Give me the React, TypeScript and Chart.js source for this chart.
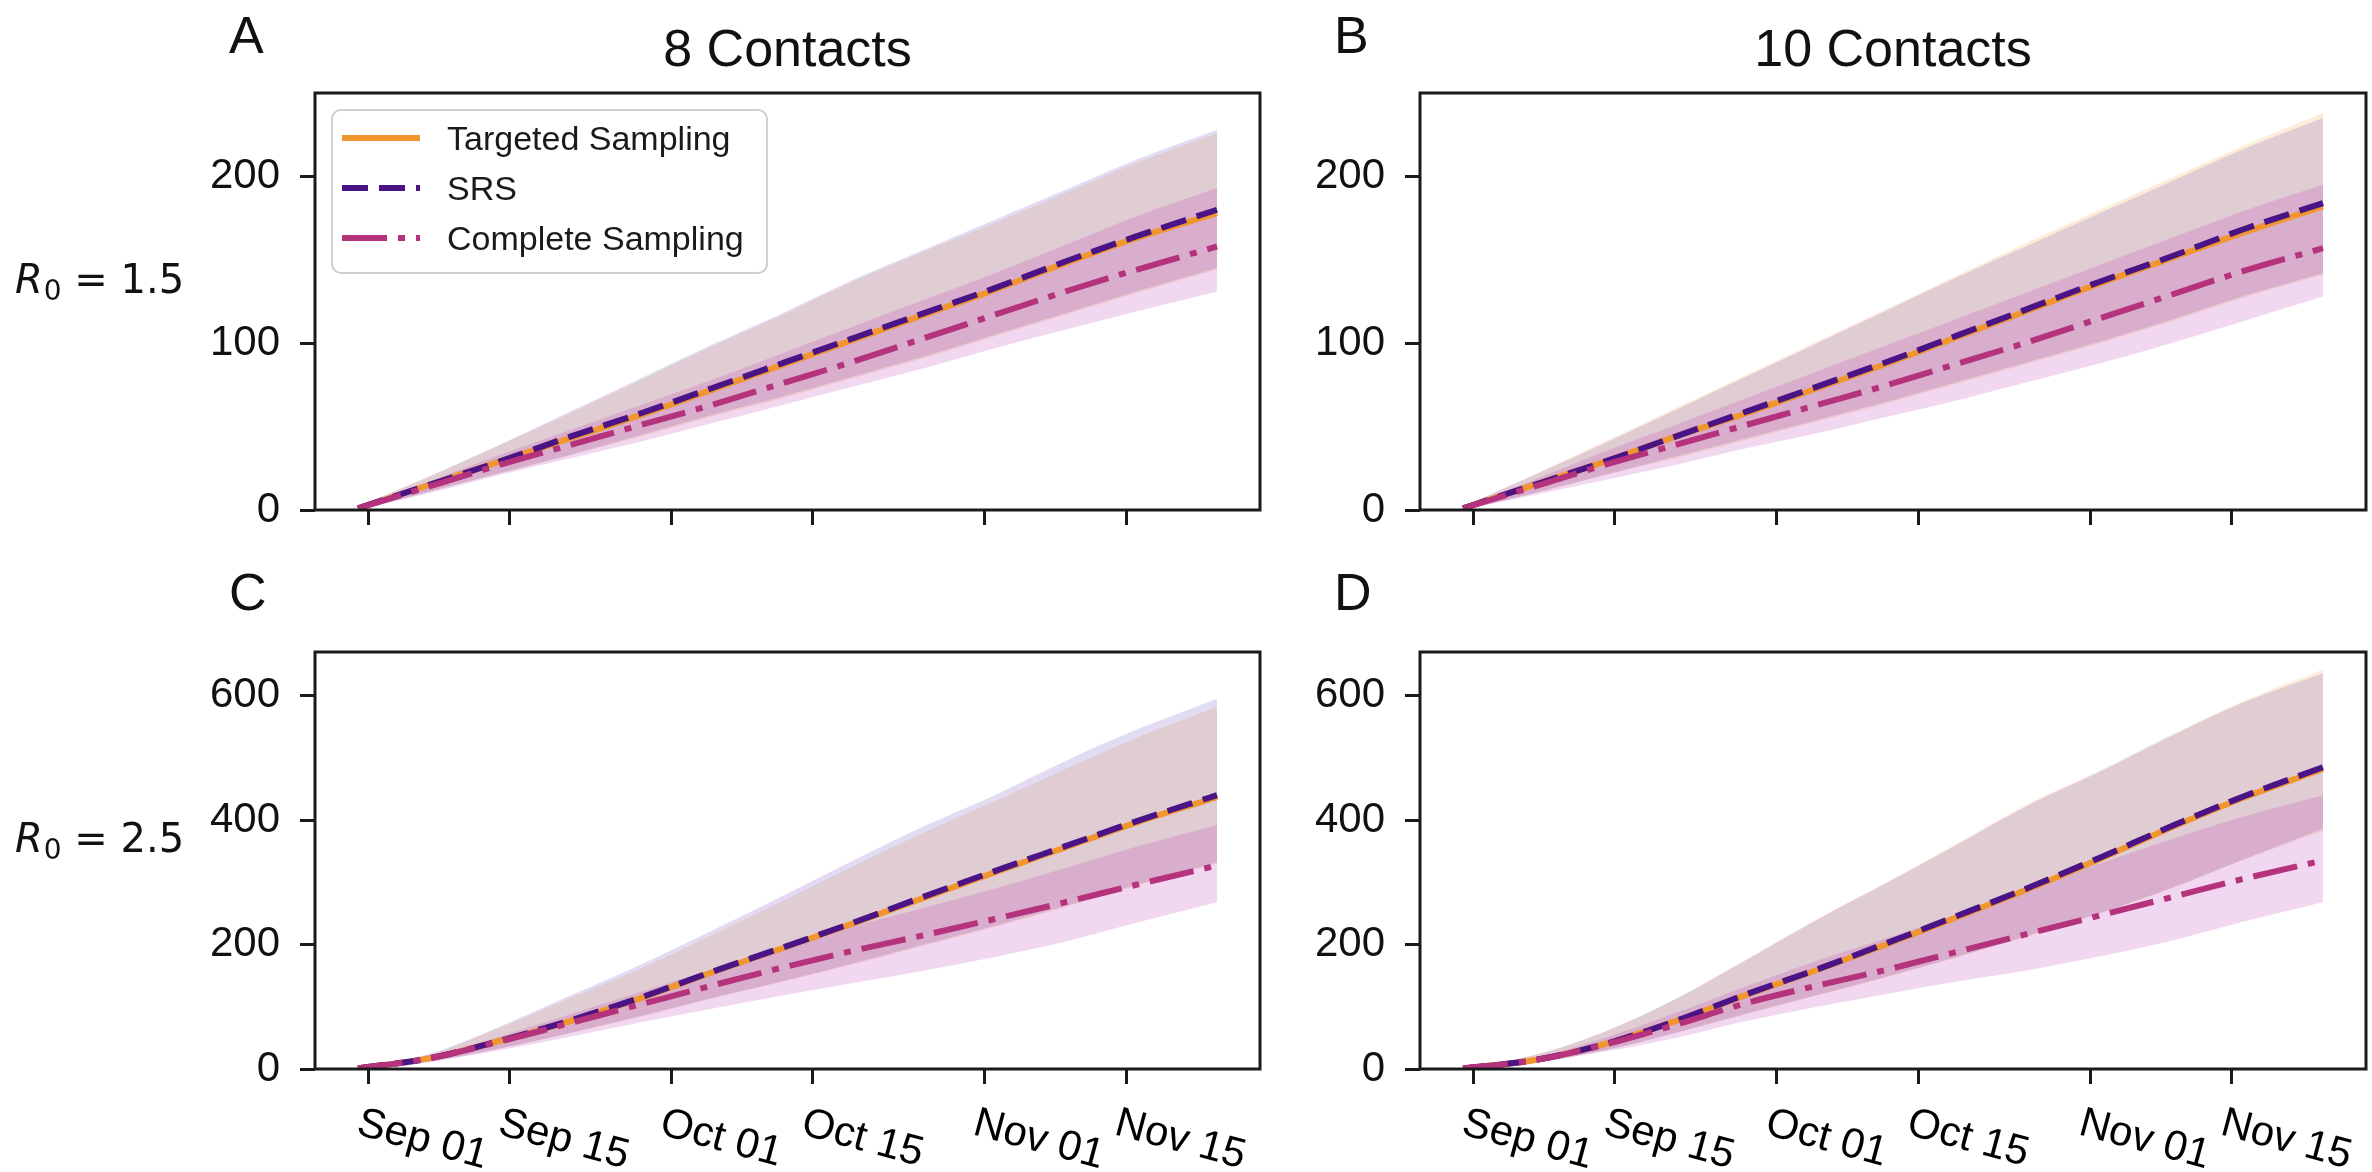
import React, { useEffect, useRef } from 'react';
import { Chart, registerables } from 'chart.js';

Chart.register(...registerables);

// ---------------- data ----------------
// x positions: days relative to Sep 01
const DAYS = [-1, 6, 13, 20, 27, 34, 41, 48, 55, 62, 69, 76, 84];
const X_TICK_DAYS = [0, 14, 30, 44, 61, 75];
const X_TICK_LABELS = ['Sep 01', 'Sep 15', 'Oct 01', 'Oct 15', 'Nov 01', 'Nov 15'];
const Y_TICKS_ROW1 = [0, 100, 200];
const Y_TICKS_ROW2 = [0, 200, 400, 600];
const Y_MAX_ROW1 = 250;
const Y_MAX_ROW2 = 670;
const SERIES_NAMES = ['Targeted Sampling', 'SRS', 'Complete Sampling'];
const COLUMN_TITLES = ['8 Contacts', '10 Contacts'];
const ROW_R0 = ['1.5', '2.5'];
const PANEL_LETTERS = ['A', 'B', 'C', 'D'];

// Panel A: R0 = 1.5, 8 contacts
const A_TS_MEAN = [1, 15, 29, 43, 57, 72, 87, 102, 117, 132, 148, 163, 178];
const A_SRS_MEAN = [1, 15, 29, 44, 58, 73, 88, 103, 118, 133, 149, 164, 180];
const A_CS_MEAN = [1, 14, 27, 39, 51, 63, 76, 89, 103, 117, 131, 144, 158];
const A_TS_LO = [0, 11, 22, 33, 44, 56, 67, 79, 91, 104, 117, 130, 144];
const A_TS_HI = [2, 20, 39, 58, 78, 98, 117, 137, 155, 172, 190, 208, 226];
const A_SRS_LO = [0, 11, 22, 33, 45, 57, 68, 80, 92, 105, 118, 131, 145];
const A_SRS_HI = [2, 20, 39, 59, 79, 99, 118, 138, 156, 174, 192, 210, 228];
const A_CS_LO = [0, 10, 21, 31, 41, 52, 63, 74, 85, 97, 108, 119, 131];
const A_CS_HI = [2, 17, 33, 48, 63, 78, 94, 110, 126, 142, 159, 176, 193];

// Panel B: R0 = 1.5, 10 contacts
const B_TS_MEAN = [1, 15, 29, 44, 58, 73, 88, 104, 120, 136, 151, 166, 182];
const B_SRS_MEAN = [1, 15, 29, 44, 59, 74, 89, 105, 121, 137, 152, 168, 184];
const B_CS_MEAN = [1, 14, 27, 39, 51, 63, 75, 88, 101, 115, 129, 143, 157];
const B_TS_LO = [0, 10, 21, 31, 42, 53, 64, 76, 88, 100, 113, 127, 141];
const B_TS_HI = [2, 21, 41, 61, 81, 101, 121, 141, 161, 180, 199, 218, 238];
const B_SRS_LO = [0, 10, 21, 32, 43, 54, 65, 77, 89, 101, 114, 128, 142];
const B_SRS_HI = [2, 21, 40, 60, 80, 100, 120, 140, 159, 178, 197, 216, 235];
const B_CS_LO = [0, 9, 18, 27, 37, 46, 56, 66, 77, 88, 100, 113, 128];
const B_CS_HI = [2, 18, 35, 51, 67, 83, 99, 115, 131, 147, 163, 179, 195];

// Panel C: R0 = 2.5, 8 contacts
const C_TS_MEAN = [1, 17, 45, 77, 114, 155, 194, 234, 275, 316, 356, 396, 437];
const C_SRS_MEAN = [1, 17, 45, 78, 115, 156, 195, 235, 277, 318, 358, 398, 440];
const C_CS_MEAN = [1, 17, 44, 74, 104, 134, 163, 190, 215, 241, 268, 296, 327];
const C_TS_LO = [0, 12, 33, 58, 84, 113, 140, 168, 198, 228, 260, 294, 330];
const C_TS_HI = [2, 23, 66, 114, 162, 215, 270, 326, 380, 430, 482, 532, 582];
const C_SRS_LO = [0, 12, 33, 58, 85, 114, 141, 170, 200, 230, 262, 296, 332];
const C_SRS_HI = [2, 24, 68, 118, 168, 222, 278, 335, 390, 440, 495, 545, 595];
const C_CS_LO = [0, 11, 30, 52, 75, 97, 118, 138, 158, 180, 205, 235, 268];
const C_CS_HI = [2, 20, 52, 88, 124, 160, 195, 229, 259, 290, 323, 357, 392];

// Panel D: R0 = 2.5, 10 contacts
const D_TS_MEAN = [1, 14, 40, 77, 119, 159, 201, 245, 290, 338, 388, 435, 482];
const D_SRS_MEAN = [1, 14, 40, 77, 120, 160, 203, 247, 292, 340, 390, 437, 485];
const D_CS_MEAN = [1, 14, 39, 71, 106, 134, 160, 189, 218, 247, 276, 305, 335];
const D_TS_LO = [0, 10, 30, 58, 88, 118, 148, 180, 214, 250, 290, 335, 383];
const D_TS_HI = [2, 22, 60, 113, 176, 241, 301, 364, 427, 480, 537, 590, 642];
const D_SRS_LO = [0, 10, 30, 58, 89, 119, 149, 181, 215, 251, 291, 336, 386];
const D_SRS_HI = [2, 22, 60, 112, 175, 240, 300, 362, 425, 478, 535, 588, 636];
const D_CS_LO = [0, 10, 28, 50, 77, 100, 121, 141, 159, 181, 206, 236, 268];
const D_CS_HI = [2, 18, 50, 90, 133, 174, 211, 249, 290, 330, 369, 405, 440];

// ---------------- styles / layout ----------------
const FONT = '"Liberation Sans", Arial, Helvetica, sans-serif';
const LINE_COLORS = ['#f1962f', '#4a1486', '#b5327c'];
const BAND_COLORS = ['rgba(241,150,47,0.18)', 'rgba(72,40,180,0.16)', 'rgba(175,40,170,0.18)'];
const DASHES: number[][] = [[], [26, 11], [45, 11, 7, 11]];
const LINE_WIDTH = 6;
const AXIS_COLOR = '#1a1a1a';

const COLS = [
  { x: 0, w: 1290, plotL: 315, plotR: 1260 },
  { x: 1290, w: 1082, plotL: 1420, plotR: 2366 },
];
const ROWS = [
  { y: 0, h: 560, plotT: 93, plotB: 510, xAxisH: 40, letterBase: 53 },
  { y: 560, h: 612, plotT: 652, plotB: 1069, xAxisH: 103, letterBase: 610 },
];
const Y_AXIS_W = 120;

type PanelCfg = {
  idx: number;
  row: number;
  col: number;
  means: number[][];
  los: number[][];
  his: number[][];
};

const PANELS: PanelCfg[] = [
  { idx: 0, row: 0, col: 0, means: [A_TS_MEAN, A_SRS_MEAN, A_CS_MEAN], los: [A_TS_LO, A_SRS_LO, A_CS_LO], his: [A_TS_HI, A_SRS_HI, A_CS_HI] },
  { idx: 1, row: 0, col: 1, means: [B_TS_MEAN, B_SRS_MEAN, B_CS_MEAN], los: [B_TS_LO, B_SRS_LO, B_CS_LO], his: [B_TS_HI, B_SRS_HI, B_CS_HI] },
  { idx: 2, row: 1, col: 0, means: [C_TS_MEAN, C_SRS_MEAN, C_CS_MEAN], los: [C_TS_LO, C_SRS_LO, C_CS_LO], his: [C_TS_HI, C_SRS_HI, C_CS_HI] },
  { idx: 3, row: 1, col: 1, means: [D_TS_MEAN, D_SRS_MEAN, D_CS_MEAN], los: [D_TS_LO, D_SRS_LO, D_CS_LO], his: [D_TS_HI, D_SRS_HI, D_CS_HI] },
];

const pts = (arr: number[]) => DAYS.map((d, i) => ({ x: d, y: arr[i] }));

function roundRectPath(ctx: CanvasRenderingContext2D, x: number, y: number, w: number, h: number, r: number) {
  ctx.beginPath();
  ctx.moveTo(x + r, y);
  ctx.lineTo(x + w - r, y);
  ctx.arcTo(x + w, y, x + w, y + r, r);
  ctx.lineTo(x + w, y + h - r);
  ctx.arcTo(x + w, y + h, x + w - r, y + h, r);
  ctx.lineTo(x + r, y + h);
  ctx.arcTo(x, y + h, x, y + h - r, r);
  ctx.lineTo(x, y + r);
  ctx.arcTo(x, y, x + r, y, r);
  ctx.closePath();
}

function makeDecor(p: PanelCfg) {
  const row = ROWS[p.row];
  return {
    id: 'decor' + p.idx,
    afterDraw(chart: any) {
      const ctx: CanvasRenderingContext2D = chart.ctx;
      const area = chart.chartArea;
      ctx.save();
      // frame
      ctx.strokeStyle = AXIS_COLOR;
      ctx.lineWidth = 3;
      ctx.setLineDash([]);
      ctx.strokeRect(area.left, area.top, area.right - area.left, area.bottom - area.top);

      ctx.fillStyle = '#111';
      // panel letter
      ctx.font = `52px ${FONT}`;
      ctx.textAlign = 'left';
      ctx.textBaseline = 'alphabetic';
      ctx.fillText(PANEL_LETTERS[p.idx], area.left - 86, row.letterBase - row.y);

      // column title
      if (p.row === 0) {
        ctx.textAlign = 'center';
        ctx.font = `52px ${FONT}`;
        ctx.fillText(COLUMN_TITLES[p.col], (area.left + area.right) / 2, 66);
      }

      // row label R0 = ...
      if (p.col === 0) {
        const base = (area.top + area.bottom) / 2 - 9;
        let x = 15;
        ctx.textAlign = 'left';
        ctx.font = 'italic 40px "DejaVu Sans"';
        ctx.fillText('R', x, base);
        x += ctx.measureText('R').width + 1;
        ctx.font = '28px "DejaVu Sans"';
        ctx.fillText('0', x, base + 7);
        x += ctx.measureText('0').width;
        ctx.font = '40px "DejaVu Sans"';
        ctx.fillText(' = ' + ROW_R0[p.row], x, base);
      }

      // x tick labels (bottom row)
      if (p.row === 1) {
        const xs = chart.scales.x;
        ctx.font = `42px ${FONT}`;
        ctx.textAlign = 'left';
        ctx.textBaseline = 'alphabetic';
        ctx.fillStyle = '#000';
        X_TICK_DAYS.forEach((d, i) => {
          const px = xs.getPixelForValue(d);
          ctx.save();
          ctx.translate(px - 13, area.bottom + 65);
          ctx.rotate((15 * Math.PI) / 180);
          ctx.fillText(X_TICK_LABELS[i], 0, 0);
          ctx.restore();
        });
      }

      // legend (panel A)
      if (p.idx === 0) {
        const lx = area.left + 17;
        const ly = area.top + 17;
        roundRectPath(ctx, lx, ly, 435, 163, 9);
        ctx.fillStyle = 'rgba(255,255,255,0.85)';
        ctx.fill();
        ctx.strokeStyle = '#cfcfcf';
        ctx.lineWidth = 2;
        ctx.stroke();
        SERIES_NAMES.forEach((name, i) => {
          const y = ly + 28 + i * 50;
          ctx.beginPath();
          ctx.setLineDash(DASHES[i]);
          ctx.strokeStyle = LINE_COLORS[i];
          ctx.lineWidth = LINE_WIDTH;
          ctx.lineCap = 'butt';
          ctx.moveTo(lx + 10, y);
          ctx.lineTo(lx + 88, y);
          ctx.stroke();
          ctx.setLineDash([]);
          ctx.fillStyle = '#1a1a1a';
          ctx.font = `34px ${FONT}`;
          ctx.textAlign = 'left';
          ctx.textBaseline = 'alphabetic';
          ctx.fillText(name, lx + 115, y + 12);
        });
      }
      ctx.restore();
    },
  };
}

function PanelChart({ p }: { p: PanelCfg }) {
  const ref = useRef<HTMLCanvasElement>(null);
  const col = COLS[p.col];
  const row = ROWS[p.row];
  useEffect(() => {
    if (!ref.current) return;
    const yTicks = p.row === 0 ? Y_TICKS_ROW1 : Y_TICKS_ROW2;
    const yMax = p.row === 0 ? Y_MAX_ROW1 : Y_MAX_ROW2;
    const datasets: any[] = [];
    // bands: lo at index 2k, hi at 2k+1 (filled to lo)
    for (let k = 0; k < 3; k++) {
      datasets.push({
        label: SERIES_NAMES[k] + ' lower',
        data: pts(p.los[k]),
        borderColor: 'rgba(0,0,0,0)',
        borderWidth: 1,
        pointRadius: 0,
        fill: false,
        cubicInterpolationMode: 'monotone',
        order: 20 - k,
      });
      datasets.push({
        label: SERIES_NAMES[k] + ' upper',
        data: pts(p.his[k]),
        borderColor: 'rgba(0,0,0,0)',
        borderWidth: 1,
        pointRadius: 0,
        backgroundColor: BAND_COLORS[k],
        fill: 2 * k,
        cubicInterpolationMode: 'monotone',
        order: 10 - k,
      });
    }
    for (let k = 0; k < 3; k++) {
      datasets.push({
        label: SERIES_NAMES[k],
        data: pts(p.means[k]),
        borderColor: LINE_COLORS[k],
        borderWidth: LINE_WIDTH,
        borderDash: DASHES[k],
        borderCapStyle: 'butt',
        pointRadius: 0,
        fill: false,
        cubicInterpolationMode: 'monotone',
        order: 3 - k,
      });
    }
    const gridCfg = {
      display: true,
      drawOnChartArea: false,
      drawTicks: true,
      tickLength: 15,
      tickWidth: 3,
      tickColor: AXIS_COLOR,
    };
    const chart = new Chart(ref.current, {
      type: 'line',
      data: { datasets },
      options: {
        responsive: false,
        maintainAspectRatio: false,
        animation: false,
        devicePixelRatio: 1,
        layout: {
          autoPadding: false,
          padding: {
            left: col.plotL - col.x - Y_AXIS_W,
            right: col.x + col.w - col.plotR,
            top: row.plotT - row.y,
            bottom: row.y + row.h - row.plotB - row.xAxisH,
          },
        },
        plugins: {
          legend: { display: false },
          tooltip: { enabled: false },
          title: { display: false },
        },
        scales: {
          x: {
            type: 'linear',
            min: -5.25,
            max: 88.25,
            afterBuildTicks: (s: any) => {
              s.ticks = X_TICK_DAYS.map((v) => ({ value: v }));
            },
            afterFit: (s: any) => {
              s.height = row.xAxisH;
              s.paddingLeft = 0;
              s.paddingRight = 0;
              s.paddingTop = 0;
              s.paddingBottom = 0;
            },
            ticks: { display: false },
            grid: gridCfg,
            border: { display: false },
          },
          y: {
            type: 'linear',
            min: 0,
            max: yMax,
            afterBuildTicks: (s: any) => {
              s.ticks = yTicks.map((v) => ({ value: v }));
            },
            afterFit: (s: any) => {
              s.width = Y_AXIS_W;
              s.paddingTop = 0;
              s.paddingBottom = 0;
              s.paddingLeft = 0;
              s.paddingRight = 0;
            },
            ticks: {
              font: { size: 42, family: FONT },
              color: '#111',
              padding: 20,
            },
            grid: gridCfg,
            border: { display: false },
          },
        },
      } as any,
      plugins: [makeDecor(p)],
    });
    return () => chart.destroy();
  }, []);
  return (
    <canvas
      ref={ref}
      width={col.w}
      height={row.h}
      style={{ position: 'absolute', left: col.x, top: row.y, width: col.w, height: row.h }}
    />
  );
}

export default function App() {
  return (
    <div
      style={{
        position: 'absolute',
        left: 0,
        top: 0,
        width: 2372,
        height: 1172,
        background: '#ffffff',
        overflow: 'hidden',
      }}
    >
      {PANELS.map((p) => (
        <PanelChart key={p.idx} p={p} />
      ))}
    </div>
  );
}
